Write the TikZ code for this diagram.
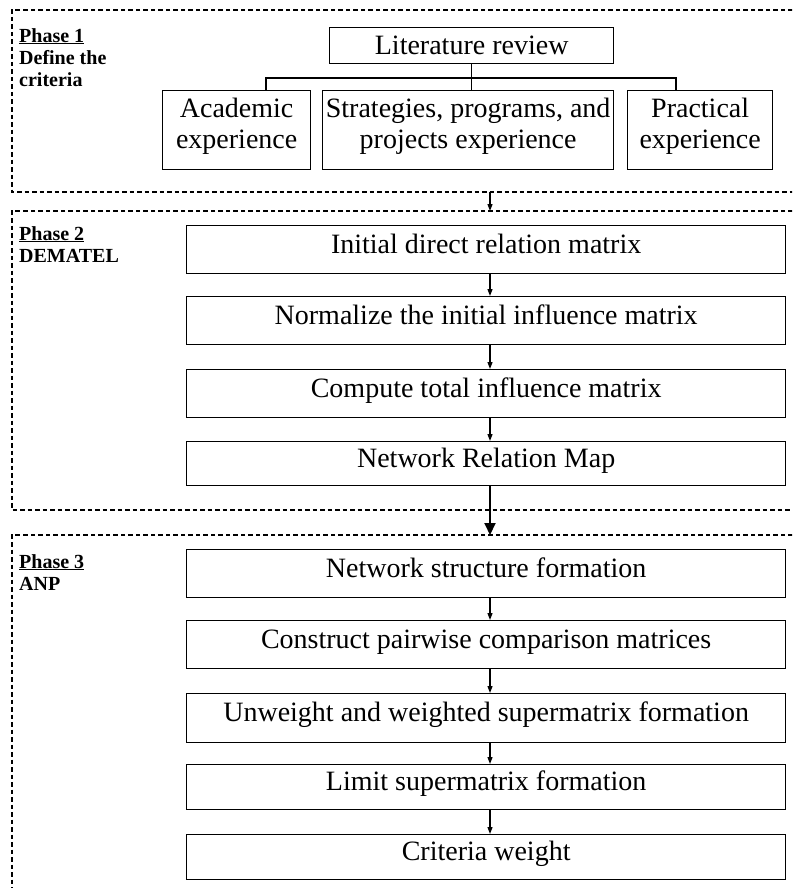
\documentclass[tikz,border=0pt]{standalone}
\usepackage{fontspec}
\setmainfont{Liberation Serif}
\usetikzlibrary{arrows.meta}
\newcommand{\lowdepth}{\rule[-13pt]{0pt}{13pt}}
\begin{document}
\begin{tikzpicture}[x=1pt,y=-1pt,
  stepbox/.style={draw, line width=1.3pt, minimum width=599pt, inner sep=0pt,
    anchor=north west, font=\fontsize{28}{31}\selectfont,
    text height=18pt, text depth=11pt},
  topbox/.style={draw, line width=1.3pt, inner sep=0pt, anchor=north west,
    align=center, font=\fontsize{28}{31}\selectfont},
  phaselabel/.style={anchor=north west, inner sep=0pt, align=left,
    font=\bfseries\fontsize{20}{22}\selectfont},
  phasebox/.style={line width=1.3pt, dash pattern=on 4.5pt off 3pt},
  link/.style={line width=1.2pt},
  smallarrow/.style={line width=1.2pt, -{Triangle[length=7pt,width=5pt]}},
  bigarrow/.style={line width=2pt, -{Triangle[length=12pt,width=11pt]}}]
\useasboundingbox (0,0) rectangle (792,888);
\clip (0,0) rectangle (792,888);

% phase frames (open to the right / bottom)
\draw[phasebox] (800,10) -- (12,10) -- (12,192) -- (800,192);
\draw[phasebox] (800,211) -- (12,211) -- (12,510) -- (800,510);
\draw[phasebox] (800,535) -- (12,535) -- (12,900);
\coordinate (p1bot) at (490,192);
\coordinate (p2top) at (490,211);
\coordinate (p3top) at (490,535);
\coordinate (ax) at (490,0);

% labels
\node[phaselabel] (ph1) at (19,28) {\underline{Phase 1}\\Define the\\criteria};
\node[phaselabel] (ph2) at (19,226) {\underline{Phase 2}\\DEMATEL};
\node[phaselabel] (ph3) at (19,554) {\underline{Phase 3}\\ANP};

% phase 1
\node[topbox, minimum width=284pt, minimum height=36pt] (lit) at (329,27) {Literature review};
\node[topbox, minimum width=148pt, minimum height=79pt] (acad) at (162,90) {Academic\\experience\lowdepth};
\node[topbox, minimum width=291pt, minimum height=79pt] (strat) at (322,90) {Strategies, programs, and\\projects experience\lowdepth};
\node[topbox, minimum width=145pt, minimum height=79pt] (prac) at (627,90) {Practical\\experience\lowdepth};
\coordinate (bl) at (266,78);
\coordinate (br) at (676,78);
\draw[link] (lit.south) -- (lit.south |- strat.north);
\draw[link] (bl |- acad.north) -- (bl) -- (br) -- (br |- prac.north);

\draw[smallarrow] (p1bot) -- (p2top);

% phase 2
\node[stepbox, minimum height=48pt] (init) at (186,225) {Initial direct relation matrix};
\node[stepbox, minimum height=48pt] (norm) at (186,296) {Normalize the initial influence matrix};
\node[stepbox, minimum height=48pt] (comp) at (186,369) {Compute total influence matrix};
\node[stepbox, minimum height=44pt] (nrm) at (186,441) {Network Relation Map};
\draw[smallarrow] (init.south -| ax) -- (norm.north -| ax);
\draw[smallarrow] (norm.south -| ax) -- (comp.north -| ax);
\draw[smallarrow] (comp.south -| ax) -- (nrm.north -| ax);
\draw[bigarrow] (nrm.south -| ax) -- (p3top);

% phase 3
\node[stepbox, minimum height=48pt] (nsf) at (186,549) {Network structure formation};
\node[stepbox, minimum height=48pt] (pcm) at (186,620) {Construct pairwise comparison matrices};
\node[stepbox, minimum height=49pt] (uws) at (186,693) {Unweight and weighted supermatrix formation};
\node[stepbox, minimum height=45pt] (lsf) at (186,764) {Limit supermatrix formation};
\node[stepbox, minimum height=45pt] (cw) at (186,834) {Criteria weight};
\draw[smallarrow] (nsf.south -| ax) -- (pcm.north -| ax);
\draw[smallarrow] (pcm.south -| ax) -- (uws.north -| ax);
\draw[smallarrow] (uws.south -| ax) -- (lsf.north -| ax);
\draw[smallarrow] (lsf.south -| ax) -- (cw.north -| ax);
\end{tikzpicture}
\end{document}
